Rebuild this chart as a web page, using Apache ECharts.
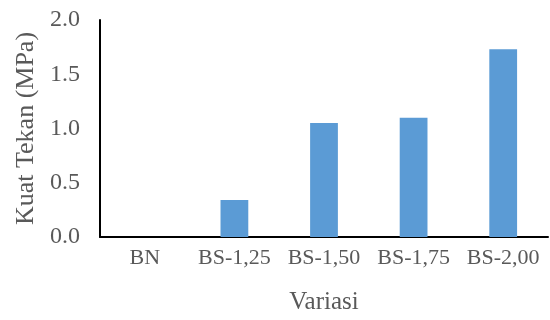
<!doctype html>
<html>
<head>
<meta charset="utf-8">
<script src="https://cdn.jsdelivr.net/npm/echarts@6/dist/echarts.min.js"></script>
<style>html,body{margin:0;padding:0;background:#fff}#main{width:550px;height:320px}</style>
</head>
<body>
<div id="main"></div>
<script>
var categories = ['BN', 'BS-1,25', 'BS-1,50', 'BS-1,75', 'BS-2,00'];
var kuatTekan = [0, 0.34, 1.05, 1.10, 1.73];

var font = 'Liberation Serif';
var chart = echarts.init(document.getElementById('main'));
chart.setOption({
    animation: false,
    grid: { left: 100, top: 20, right: 2, bottom: 81 },
    xAxis: {
        type: 'category',
        data: categories,
        name: 'Variasi',
        nameLocation: 'middle',
        nameGap: 53,
        nameTextStyle: { fontFamily: font, fontSize: 25, color: '#595959' },
        axisLine: { lineStyle: { color: '#000', width: 2 } },
        axisTick: { show: false },
        axisLabel: { interval: 0, fontFamily: font, fontSize: 22, color: '#595959', margin: 10 }
    },
    yAxis: {
        type: 'value',
        min: 0, max: 2, interval: 0.5,
        name: 'Kuat Tekan (MPa)',
        nameLocation: 'middle',
        nameGap: 60,
        nameTextStyle: { fontFamily: font, fontSize: 26, color: '#595959' },
        axisLine: { show: true, lineStyle: { color: '#000', width: 2 } },
        axisTick: { show: false },
        splitLine: { show: false },
        axisLabel: {
            fontFamily: font, fontSize: 24, color: '#595959', margin: 20,
            formatter: function (v) { return v.toFixed(1); }
        }
    },
    series: [{
        type: 'bar',
        data: kuatTekan,
        barWidth: '31%',
        itemStyle: { color: '#5B9BD5' }
    }]
});
</script>
</body>
</html>
